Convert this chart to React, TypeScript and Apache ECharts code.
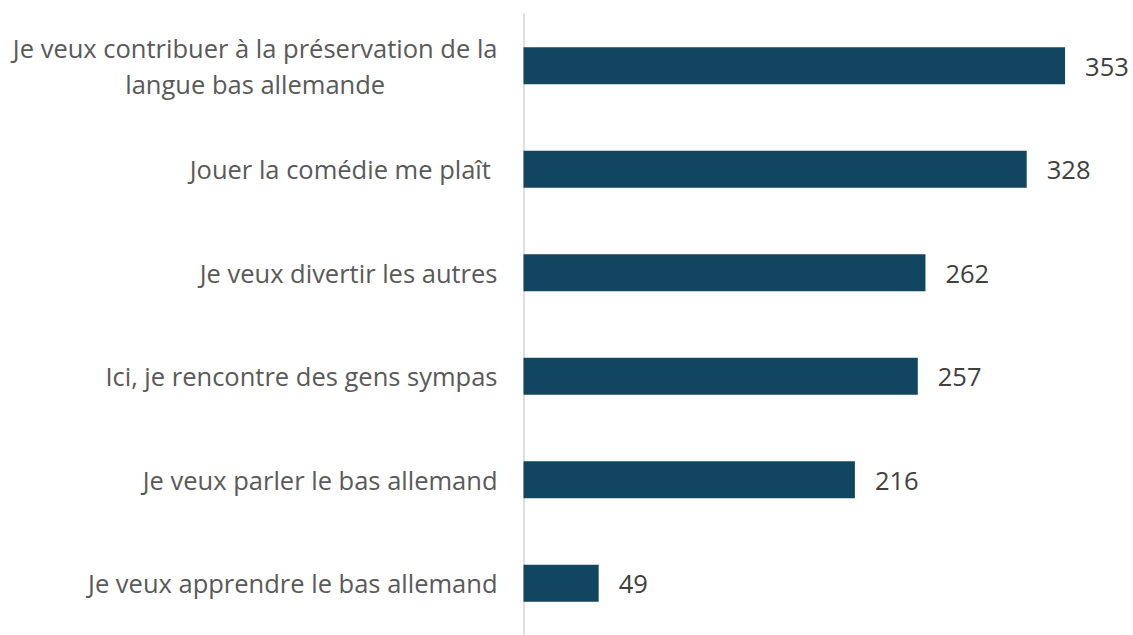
import React, { useEffect, useRef } from "react";
import * as echarts from "echarts";

const categories = [
  "Je veux contribuer à la préservation de la\nlangue bas allemande",
  "Jouer la comédie me plaît ",
  "Je veux divertir les autres",
  "Ici, je rencontre des gens sympas",
  "Je veux parler le bas allemand",
  "Je veux apprendre le bas allemand",
];
const values = [353, 328, 262, 257, 216, 49];

export default function App() {
  const ref = useRef<HTMLDivElement>(null);
  useEffect(() => {
    const chart = echarts.init(ref.current!, null, { renderer: "svg" });
    const font = "'Open Sans', sans-serif";
    chart.setOption({
      animation: false,
      grid: { left: 523.5, top: 14, width: 583, height: 629 },
      xAxis: {
        type: "value",
        min: 0,
        max: 380,
        show: false,
      },
      yAxis: {
        type: "category",
        inverse: true,
        data: categories,
        axisLine: { show: true, lineStyle: { color: "#d4d4d4", width: 1.5 } },
        axisTick: { show: false },
        splitLine: { show: false },
        axisLabel: {
          margin: 26,
          fontFamily: font,
          fontSize: 25.5,
          color: "#595959",
          lineHeight: 36,
          formatter: (v: string) =>
            v.split("\n").map((l) => `{c|${l}}`).join("\n"),
          rich: {
            c: {
              align: "center",
              fontFamily: font,
              fontSize: 25.5,
              color: "#595959",
              lineHeight: 36,
            },
          },
        },
      },
      series: [
        {
          type: "bar",
          data: values,
          barWidth: 37,
          itemStyle: { color: "#124560" },
          label: {
            show: true,
            position: "right",
            distance: 20,
            fontFamily: font,
            fontSize: 25.5,
            color: "#404040",
          },
        },
      ],
    });
    return () => chart.dispose();
  }, []);
  return (
    <div
      ref={ref}
      style={{ position: "fixed", left: 0, top: 0, width: 1133, height: 635, background: "#fff" }}
    />
  );
}
